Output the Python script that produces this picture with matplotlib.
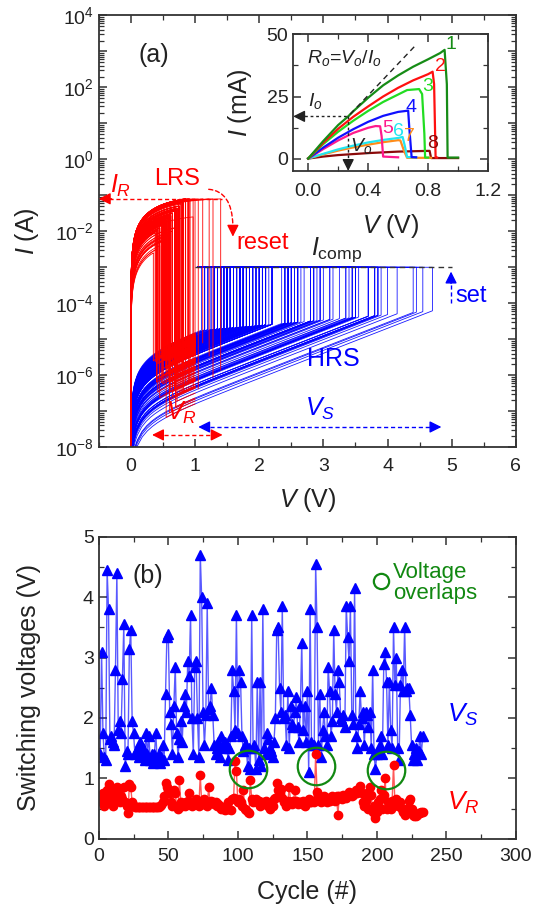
import numpy as np
import matplotlib
matplotlib.use("Agg")
import matplotlib.pyplot as plt
import matplotlib.ticker as ticker
from matplotlib.patches import FancyArrowPatch

# switching voltages per cycle
V_S = [1.4, 3.1, 1.75, 1.35, 1.3, 4.45, 3.8, 1.65, 1.7, 1.6,
       1.55, 2.8, 4.4, 1.8, 1.95, 1.75, 2.65, 3.55, 1.2, 1.45,
       1.4, 3.15, 3.45, 1.95, 1.75, 1.4, 1.45, 1.5, 1.35, 1.6,
       1.4, 1.5, 1.3, 1.75, 1.4, 1.7, 1.3, 1.4, 1.25, 1.4,
       1.75, 1.3, 1.4, 1.25, 1.35, 1.55, 1.3, 2.4, 3.35, 3.4,
       2.1, 1.9, 1.4, 2.2, 2.85, 1.75, 1.35, 1.65, 1.95, 1.6,
       2.2, 2.4, 2.1, 2.95, 2.7, 3.7, 2.0, 1.4, 2.85, 2.95,
       2.0, 1.35, 4.7, 4.0, 2.1, 1.55, 2.05, 3.9, 2.15, 2.2,
       2.5, 2.05, 1.55, 1.4, 1.5, 1.6, 1.35, 1.7, 1.55, 1.5,
       1.6, 1.55, 1.3, 1.5, 1.7, 2.8, 2.45, 1.8, 3.7, 1.75,
       2.8, 2.6, 1.7, 1.45, 1.55, 1.55, 1.2, 1.5, 1.15, 3.7,
       1.5, 1.55, 1.15, 2.6, 1.3, 2.6, 1.2, 3.8, 1.5, 1.4,
       1.75, 1.65, 1.5, 1.45, 1.35, 1.6, 2.0, 3.45, 3.5, 2.5,
       2.1, 3.85, 2.0, 2.05, 1.55, 2.45, 1.5, 2.2, 1.9, 1.85,
       2.1, 2.35, 1.85, 1.6, 2.2, 3.25, 1.8, 2.2, 1.6, 2.45,
       1.1, 3.8, 1.6, 1.55, 1.55, 4.55, 3.5, 1.55, 2.4, 1.35,
       1.8, 2.1, 1.7, 1.55, 2.85, 2.45, 1.7, 1.95, 3.45, 2.4,
       2.1, 2.8, 2.6, 2.0, 1.95, 2.05, 1.85, 3.85, 3.35, 2.95,
       3.85, 2.05, 1.9, 4.15, 1.7, 1.5, 1.9, 2.45, 2.0, 2.1,
       1.55, 2.1, 2.05, 1.85, 2.1, 1.5, 2.8, 1.4, 1.15, 1.4,
       1.45, 1.55, 1.7, 1.4, 2.9, 3.1, 2.6, 1.55, 2.6, 1.8,
       1.5, 3.5, 2.55, 3.0, 1.5, 1.3, 2.55, 2.8, 2.45, 3.5,
       2.45, 2.5, 2.5, 2.05, 1.55, 1.3, 1.4, 1.5, 1.3, 1.45,
       1.7, 1.4, 1.7]

V_R = [0.65, 0.6, 0.75, 0.55, 0.7, 0.8, 0.9, 0.85, 0.6, 0.55,
       0.75, 0.7, 0.85, 0.8, 0.6, 0.7, 0.65, 0.85, 0.6, 0.55,
       0.42, 0.9, 0.85, 0.6, 0.55, 0.52, 0.52, 0.52, 0.53, 0.52,
       0.52, 0.52, 0.53, 0.52, 0.52, 0.52, 0.53, 0.52, 0.52, 0.52,
       0.53, 0.52, 0.53, 0.55, 0.56, 0.6, 0.7, 0.92, 0.85, 0.8,
       0.75, 0.6, 0.55, 0.8, 0.75, 0.55, 0.5, 0.97, 0.6, 0.55,
       0.58, 0.55, 0.6, 0.62, 0.75, 0.6, 0.55, 0.58, 0.6, 0.65,
       0.6, 0.55, 1.05, 0.6, 0.58, 0.65, 0.6, 0.55, 0.85, 0.6,
       0.62, 0.6, 0.58, 0.6, 0.55, 0.58, 0.55, 0.5, 0.52, 0.5,
       0.48, 0.5, 0.6, 0.5, 0.48, 0.65, 0.68, 1.28, 1.12, 0.6,
       0.65, 0.6, 0.55, 0.8, 0.5, 0.48, 0.45, 0.42, 0.97, 0.65,
       0.6, 0.62, 0.65, 0.6, 0.62, 0.55, 0.6, 0.58, 0.6, 0.62,
       0.58, 0.55, 0.5, 0.6, 0.55, 0.65, 0.68, 0.92, 0.8, 0.75,
       0.82, 0.68, 0.6, 0.62, 0.55, 0.62, 0.85, 0.6, 0.58, 0.62,
       0.8, 0.62, 0.58, 0.6, 0.6, 0.58, 0.62, 0.55, 0.6, 0.62,
       0.65, 0.6, 0.6, 0.62, 0.6, 1.4, 0.78, 0.72, 0.65, 0.6,
       0.62, 0.7, 0.65, 0.6, 0.68, 0.62, 0.65, 0.7, 0.65, 0.62,
       0.7, 0.4, 0.7, 0.68, 0.65, 0.72, 0.7, 0.68, 0.72, 0.78,
       0.75, 0.7, 0.72, 0.75, 0.8, 0.75, 0.82, 0.88, 0.75, 0.6,
       0.55, 0.62, 0.75, 0.5, 0.85, 0.72, 0.45, 0.55, 0.35, 0.45,
       0.6, 0.65, 0.8, 0.5, 0.72, 1.0, 0.5, 0.6, 0.55, 0.5,
       0.62, 1.22, 0.6, 0.65, 0.55, 0.58, 0.6, 0.5, 0.45, 0.4,
       0.5, 0.45, 0.62, 0.65, 0.5, 0.4, 0.38, 0.38, 0.4, 0.42,
       0.42, 0.44, 0.44]

cycles = np.arange(1, len(V_S) + 1)

# cycles where V_S and V_R overlap (circled)
overlap_cycle = [107, 156, 206.5]
overlap_v = [1.15, 1.21, 1.14]

I_COMP = 1e-3

# inset: reset I-V curves (V in volts, I in mA)
inset_curves = {
    "1": ([0, 0.1, 0.2, 0.267, 0.3, 0.4, 0.5, 0.6, 0.7, 0.8, 0.88, 0.91, 0.925, 0.93, 1.0],
          [0, 7, 13.5, 17, 19, 24.5, 29.5, 33.5, 37, 40, 42.5, 43.8, 30, 0.4, 0.4]),
    "2": ([0, 0.1, 0.2, 0.3, 0.4, 0.5, 0.6, 0.7, 0.8, 0.83, 0.84, 0.85, 0.86],
          [0, 6.3, 12, 16.8, 21, 25, 28.5, 31.5, 34, 35, 30, 0.4, 0.4]),
    "3": ([0, 0.1, 0.2, 0.3, 0.4, 0.5, 0.6, 0.66, 0.74, 0.76, 0.775, 0.78, 0.8],
          [0, 5.8, 10.8, 15.2, 19.2, 22.8, 25.8, 27.6, 28, 26, 10, 0.4, 0.4]),
    "4": ([0, 0.1, 0.2, 0.3, 0.4, 0.5, 0.6, 0.667, 0.675, 0.69, 0.72],
          [0, 4.4, 8.4, 11.8, 14.8, 17.2, 18.8, 19.3, 12, 0.6, 0.5]),
    "5": ([0, 0.1, 0.2, 0.3, 0.4, 0.45, 0.48, 0.49, 0.5, 0.6],
          [0, 3.8, 7.3, 10.3, 12.4, 13.1, 13.0, 9, 0.8, 0.5]),
    "6": ([0, 0.1, 0.2, 0.3, 0.4, 0.5, 0.6, 0.63, 0.645, 0.66, 0.72],
          [0, 1.9, 3.7, 5.2, 6.5, 7.5, 8.3, 8.7, 5, 0.6, 0.5]),
    "7": ([0, 0.1, 0.2, 0.3, 0.4, 0.5, 0.6, 0.615, 0.64, 0.66, 0.82],
          [0, 1.7, 3.2, 4.5, 5.6, 6.6, 7.4, 7.3, 3, 0.3, 0.3]),
    "8": ([0, 0.1, 0.2, 0.4, 0.6, 0.8, 0.81, 0.82, 1.0],
          [0, 0.8, 1.4, 2.2, 2.8, 3.1, 3.1, 0.2, 0.2]),
}
inset_colors = {"1": "#168c16", "2": "#ff1010", "3": "#22dd22", "4": "#1010ff",
                "5": "#ff1a8c", "6": "#22e6f0", "7": "#ff8c1a", "8": "#8b0a0a"}
inset_label_pos = {"1": (0.95, 46), "2": (0.885, 37), "3": (0.80, 29), "4": (0.685, 20.7),
                   "5": (0.53, 12), "6": (0.6, 11), "7": (0.675, 9), "8": (0.83, 6)}
V_O, I_O = 0.267, 17.0

plt.rcParams['font.family'] = ['Liberation Sans', 'DejaVu Sans']
plt.rcParams['mathtext.fontset'] = 'custom'
plt.rcParams['mathtext.rm'] = 'Liberation Sans'
plt.rcParams['mathtext.it'] = 'Liberation Sans:italic'
plt.rcParams['mathtext.default'] = 'regular'
plt.rcParams['text.color'] = '#222222'
plt.rcParams['axes.labelcolor'] = '#222222'
plt.rcParams['xtick.color'] = '#333333'
plt.rcParams['ytick.color'] = '#333333'
plt.rcParams['xtick.labelcolor'] = '#222222'
plt.rcParams['ytick.labelcolor'] = '#222222'

RED = '#ff0000'
BLUE = '#0000ff'
GREEN = '#118811'


def style_axes(ax, labelsize=14):
    for s in ax.spines.values():
        s.set_linewidth(1.3)
        s.set_color('#333333')
    ax.tick_params(which='both', direction='in', top=True, right=True, labelsize=labelsize)
    ax.tick_params(which='major', length=6, width=1.1)
    ax.tick_params(which='minor', length=3.5, width=0.9)


def head(ax, tip, tail, color):
    ax.annotate('', xy=tip, xytext=tail,
                arrowprops=dict(arrowstyle='-|>,head_length=0.7,head_width=0.35',
                                color=color, lw=1.0, shrinkA=0, shrinkB=0))


def hrs_current(v, vs):
    # HRS branch scaled so that the current at the set voltage sits below I_comp
    log_iset = -4.75 + 0.15 * (vs - 1.1)
    return 10 ** log_iset * np.sinh(1.6 * v) / np.sinh(1.6 * vs)


fig = plt.figure(figsize=(5.34, 9.07), dpi=100)

# ---------------- panel (a) ----------------
ax = fig.add_axes([0.185, 0.507, 0.781, 0.476])
n = len(V_S)
for i in range(n):
    vs = V_S[i]
    v = np.concatenate([np.geomspace(1e-3, 0.1, 15), np.linspace(0.1, vs, 60)])
    cur = hrs_current(v, vs)
    v = np.append(v, [vs, 1.05])
    cur = np.append(cur, [I_COMP, I_COMP])
    ax.plot(v, cur, color=BLUE, lw=0.6, alpha=0.9)

for i in range(n):
    vr = V_R[i]
    vs_next = V_S[i + 1] if i + 1 < n else V_S[i]
    log_ir = np.clip(-2.8 + 2.0 * vr, -3.2, -1.1) - 0.5 * (V_S[i] < 1.35)
    i_sat = 10 ** log_ir / np.tanh(vr / 0.8)
    v = np.concatenate([np.geomspace(1e-6, 0.02, 15), np.linspace(0.02, vr, 40)])
    cur = i_sat * np.tanh(v / 0.8)
    v_hrs = np.linspace(vr, max(vr, 1.0), 15)
    v = np.concatenate([v, v_hrs])
    cur = np.concatenate([cur, hrs_current(v_hrs, vs_next)])
    ax.plot(v, cur, color=RED, lw=0.6)

# compliance line
ax.plot([1.0, 5.0], [I_COMP, I_COMP], ls=(0, (4, 3)), color='#333333', lw=1.0)

ax.set_yscale('log')
ax.set_xlim(-0.5, 6)
ax.set_ylim(1e-8, 1e4)
ax.xaxis.set_major_locator(ticker.MultipleLocator(1))
ax.xaxis.set_minor_locator(ticker.MultipleLocator(0.5))
ax.yaxis.set_major_locator(ticker.FixedLocator([10.0 ** e for e in range(-8, 5)]))
ax.yaxis.set_major_formatter(ticker.FuncFormatter(
    lambda y, p: '$10^{%d}$' % round(np.log10(y)) if round(np.log10(y)) % 2 == 0 else ''))
ax.yaxis.set_minor_locator(ticker.LogLocator(base=10, subs=np.arange(2, 10), numticks=30))
ax.yaxis.set_minor_formatter(ticker.NullFormatter())
style_axes(ax)
ax.tick_params(axis='x', pad=8)
ax.set_xlabel(r'$\mathit{V}$ (V)', fontsize=18)
ax.set_ylabel(r'$\mathit{I}$ (A)', fontsize=18)
ax.xaxis.set_label_coords(0.5, -0.09)
ax.yaxis.set_label_coords(-0.139, 0.5)

ax.text(0.35, 10 ** 2.9, '(a)', fontsize=18, ha='center', va='center')
ax.text(-0.16, 10 ** -0.75, r'$\mathit{I}_{\mathit{R}}$', color=RED, fontsize=18, ha='center', va='center')
ax.text(0.72, 10 ** -0.55, 'LRS', color=RED, fontsize=17, ha='center', va='center')
ax.text(1.65, 10 ** -2.32, 'reset', color=RED, fontsize=17, ha='left', va='center')
ax.text(3.2, 10 ** -2.5, r'$\mathit{I}_{\mathrm{comp}}$', fontsize=18, ha='center', va='center')
ax.text(5.05, 10 ** -3.8, 'set', color=BLUE, fontsize=17, ha='left', va='center')
ax.text(3.16, 10 ** -5.55, 'HRS', color=BLUE, fontsize=18, ha='center', va='center')
ax.text(0.78, 10 ** -7.05, r'$\mathit{V}_{\mathit{R}}$', color=RED, fontsize=18, ha='center', va='center')
ax.text(2.95, 10 ** -6.95, r'$\mathit{V}_{\mathit{S}}$', color=BLUE, fontsize=18, ha='center', va='center')

# I_R arrow
ax.plot([-0.45, 1.42], [0.08, 0.08], ls=(0, (3, 2)), color=RED, lw=1.0)
head(ax, (-0.5, 0.08), (-0.3, 0.08), RED)
# reset curved arrow
arc = FancyArrowPatch((1.17, 10 ** -0.83), (1.59, 10 ** -1.9),
                      connectionstyle='angle3,angleA=0,angleB=90', arrowstyle='-',
                      ls=(0, (3, 2)), color=RED, lw=1.0)
ax.add_patch(arc)
head(ax, (1.59, 10 ** -2.15), (1.59, 10 ** -1.85), RED)
# set arrow
ax.plot([4.99, 4.99], [1e-4, 10 ** -3.3], ls=(0, (3, 2)), color=BLUE, lw=1.0)
head(ax, (4.99, 10 ** -3.12), (4.99, 10 ** -3.45), BLUE)
# V_R arrow
ax.plot([0.4, 1.35], [10 ** -7.66, 10 ** -7.66], ls=(0, (3, 2)), color=RED, lw=1.0)
head(ax, (0.33, 10 ** -7.66), (0.5, 10 ** -7.66), RED)
head(ax, (1.43, 10 ** -7.66), (1.26, 10 ** -7.66), RED)
# V_S arrow
ax.plot([1.12, 4.75], [10 ** -7.44, 10 ** -7.44], ls=(0, (3, 2)), color=BLUE, lw=1.0)
head(ax, (1.05, 10 ** -7.44), (1.22, 10 ** -7.44), BLUE)
head(ax, (4.84, 10 ** -7.44), (4.67, 10 ** -7.44), BLUE)

# ---------------- inset ----------------
ins = fig.add_axes([0.549, 0.8115, 0.365, 0.1505])
for key in ["8", "7", "6", "5", "4", "3", "2", "1"]:
    vv, ii = inset_curves[key]
    ins.plot(vv, ii, color=inset_colors[key], lw=1.6)
for key, (x, y) in inset_label_pos.items():
    ins.text(x, y, key, color=inset_colors[key], fontsize=14, ha='center', va='center')
ins.plot([0.28, 0.71], [0.28 * I_O / V_O, 0.71 * I_O / V_O], ls=(0, (4, 3)), color='#222222', lw=1.0)
ins.plot([-0.06, V_O], [I_O, I_O], ls=(0, (2, 2)), color='#222222', lw=1.0)
ins.plot([V_O, V_O], [I_O, -2.5], ls=(0, (2, 2)), color='#222222', lw=1.0)
head(ins, (-0.1, I_O), (-0.02, I_O), '#222222')
head(ins, (V_O, -5), (V_O, -1.5), '#222222')
ins.text(-0.01, 40.5, r'$\mathit{R}_{\mathit{o}}$=$\mathit{V}_{\mathit{o}}$/$\mathit{I}_{\mathit{o}}$',
         fontsize=14, ha='left', va='center')
ins.text(0.0, 23, r'$\mathit{I}_{\mathit{o}}$', fontsize=14, ha='left', va='center')
ins.text(0.28, 5, r'$\mathit{V}_{\mathit{o}}$', fontsize=14, ha='left', va='center')
ins.set_xlim(-0.1, 1.2)
ins.set_ylim(-5, 50)
ins.xaxis.set_major_locator(ticker.MultipleLocator(0.4))
ins.xaxis.set_minor_locator(ticker.MultipleLocator(0.2))
ins.xaxis.set_major_formatter(ticker.FormatStrFormatter('%.1f'))
ins.yaxis.set_major_locator(ticker.MultipleLocator(25))
ins.yaxis.set_minor_locator(ticker.MultipleLocator(12.5))
style_axes(ins)
ins.tick_params(axis='x', pad=9)
ins.set_xlabel(r'$\mathit{V}$ (V)', fontsize=18)
ins.set_ylabel(r'$\mathit{I}$ (mA)', fontsize=18)
ins.xaxis.set_label_coords(0.5, -0.3)
ins.yaxis.set_label_coords(-0.2, 0.5)

# ---------------- panel (b) ----------------
bx = fig.add_axes([0.185, 0.0753, 0.781, 0.3327])
bx.plot(cycles, V_S, color=BLUE, lw=1.0, alpha=0.65)
bx.plot(cycles, V_S, ls='none', marker='^', color=BLUE, ms=6.5)
bx.plot(cycles, V_R, color=RED, lw=1.0, alpha=0.65)
bx.plot(cycles, V_R, ls='none', marker='o', color=RED, ms=6)
bx.plot(overlap_cycle, overlap_v, ls='none', marker='o', ms=27, mfc='none', mec=GREEN, mew=1.6)
bx.plot([202.8], [4.27], ls='none', marker='o', ms=11, mfc='none', mec=GREEN, mew=1.6)
bx.text(211.5, 4.24, 'Voltage\noverlaps', color=GREEN, fontsize=16, ha='left', va='center',
        linespacing=1.0)
bx.text(35.4, 4.36, '(b)', fontsize=18, ha='center', va='center')
bx.text(262, 2.05, r'$\mathit{V}_{\mathit{S}}$', color=BLUE, fontsize=19, ha='center', va='center')
bx.text(262, 0.6, r'$\mathit{V}_{\mathit{R}}$', color=RED, fontsize=19, ha='center', va='center')
bx.set_xlim(0, 300)
bx.set_ylim(0, 5)
bx.xaxis.set_major_locator(ticker.MultipleLocator(50))
bx.xaxis.set_minor_locator(ticker.MultipleLocator(25))
bx.yaxis.set_major_locator(ticker.MultipleLocator(1))
bx.yaxis.set_minor_locator(ticker.MultipleLocator(0.5))
style_axes(bx)
bx.tick_params(axis='x', pad=7)
bx.set_xlabel('Cycle (#)', fontsize=18)
bx.set_ylabel('Switching voltages (V)', fontsize=18)
bx.xaxis.set_label_coords(0.5, -0.137)
bx.yaxis.set_label_coords(-0.139, 0.5)

fig.savefig('out.png', dpi=100)
